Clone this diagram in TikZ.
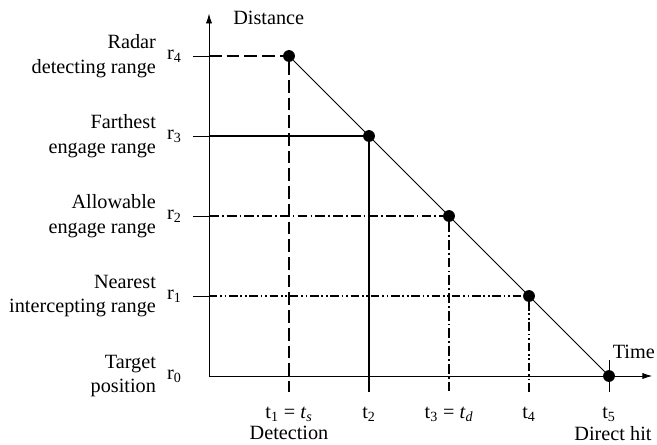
\documentclass[tikz,border=0pt]{standalone}
\usepackage{fontspec}
\setmainfont{Liberation Serif}
\usetikzlibrary{calc, positioning, arrows.meta}

\tikzset{
    txt/.style={font=\fontsize{14.4}{17.5}\selectfont, inner sep=0pt},
    side/.style={txt, align=right, anchor=east},
    pt/.style={circle, fill, inner sep=0pt, minimum size=8.4pt},
    dashline/.style={line width=1.1pt, dash pattern=on 9pt off 3.6pt},
    fullline/.style={line width=1.1pt},
    dashdot/.style={line width=1.1pt, dash pattern=on 7pt off 2.2pt on 1.2pt off 2.2pt},
    dashdotdot/.style={line width=1.1pt, dash pattern=on 6pt off 2pt on 1.2pt off 2pt on 1.2pt off 2pt},
}

\begin{document}
\begin{tikzpicture}[>={Latex[length=7pt,width=4.4pt]}, x=2cm, y=2cm]
    \useasboundingbox (-2.6125,-0.85) rectangle (5.6,4.7);

    % Hệ trục
    \coordinate (O) at (0,0);
    \coordinate (xend) at (5.54,0);
    \coordinate (yend) at (0,4.53);
    \draw[->, line width=0.6pt] (O) -- (xend);
    \draw[->, line width=0.6pt] (O) -- (yend);
    \node[txt, anchor=west] (dist) at (0.3,4.475) {Distance};
    \node[txt] (time) at (5.31,0.3) {Time};

    % Các điểm trên quỹ đạo
    \node[pt] (p0) at (5,0) {};
    \foreach \k/\s in {4/dashline, 3/fullline, 2/dashdot, 1/dashdotdot} {
        \pgfmathtruncatemacro{\i}{5-\k}
        \node[pt] (p\k) at (\i,\k) {};
        \coordinate (r\k) at (-0.2,\k);
        \coordinate (a\k) at (0,\k);
        \coordinate (t\i) at (\i,-0.2);
        \draw[line width=0.6pt] (r\k) -- (a\k);
        \draw[\s] (a\k) -- (p\k) -- (t\i);
    }
    \coordinate (t5) at (5,-0.2);
    \coordinate (t5top) at (5,0.2);
    \draw[line width=0.6pt] (t5top) -- (t5);
    \draw[line width=0.6pt] (p4) -- (p0);

    % Nhãn trục tung
    \foreach \k in {0,...,4} {
        \node[txt, anchor=east] (rl\k) at (-0.34,\k) {r\textsubscript{\k}};
    }
    \node[side] (s4) at (-0.66,4) {Radar\\detecting range};
    \node[side] (s3) at (-0.66,3) {Farthest\\engage range};
    \node[side] (s2) at (-0.66,2) {Allowable\\engage range};
    \node[side] (s1) at (-0.66,1) {Nearest\\intercepting range};
    \node[side] (s0) at (-0.66,0) {Target\\position};

    % Nhãn trục hoành
    \node[txt] (tl1) at (1,-0.475) {t\textsubscript{1} = \textit{t}\textsubscript{\textit{s}}};
    \node[txt] (tl2) at (2,-0.475) {t\textsubscript{2}};
    \node[txt] (tl3) at (3,-0.475) {t\textsubscript{3} = \textit{t}\textsubscript{\textit{d}}};
    \node[txt] (tl4) at (4,-0.475) {t\textsubscript{4}};
    \node[txt] (tl5) at (5,-0.475) {t\textsubscript{5}};
    \node[txt] (det) at (1,-0.71) {Detection};
    \node[txt] (hit) at (5.05,-0.72) {Direct hit};

\end{tikzpicture}
\end{document}
